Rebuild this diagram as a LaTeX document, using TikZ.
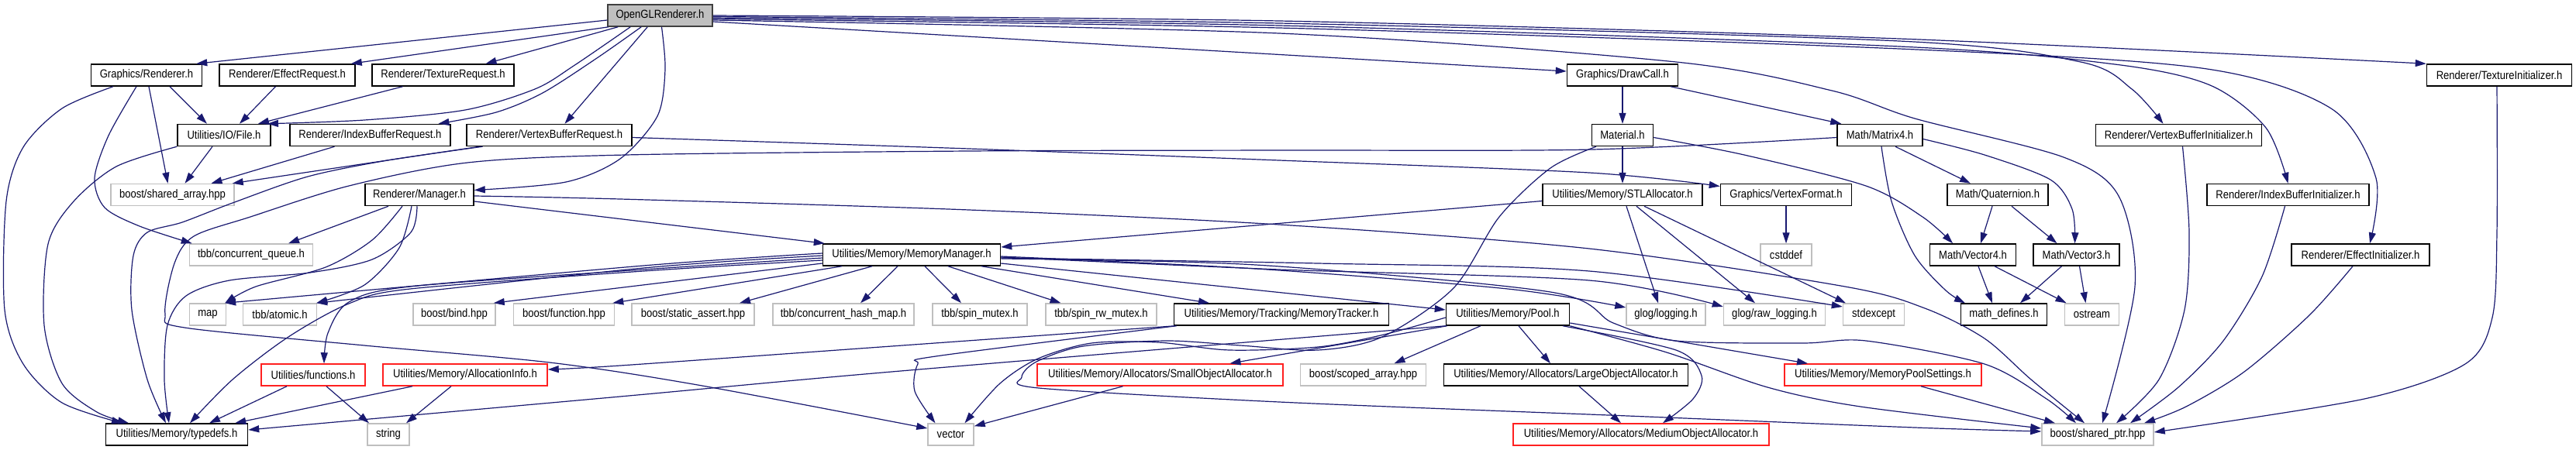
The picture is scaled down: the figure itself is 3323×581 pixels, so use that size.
\documentclass[tikz,border=0pt]{standalone}
\usepackage{fontspec}
\newfontfamily\nf[FakeStretch=0.87]{Liberation Sans}
\usetikzlibrary{arrows.meta}
\definecolor{edgeblue}{HTML}{191970}
\definecolor{extgray}{HTML}{BFBFBF}
\definecolor{truncred}{HTML}{FF2020}
\definecolor{rootgray}{HTML}{BFBFBF}
\definecolor{rootborder}{HTML}{404040}
\tikzset{
  nb/.style={draw=black, line width=1.5pt, fill=white, minimum height=28pt, inner xsep=2pt, inner ysep=0pt, font=\nf\fontsize{15}{18}\selectfont},
  ext/.style={nb, draw=extgray},
  trunc/.style={nb, draw=truncred},
  root/.style={nb, fill=rootgray, draw=rootborder},
  edge/.style={draw=edgeblue, line width=1.2pt, -{Triangle[length=14pt,width=9pt]}},
}
\begin{document}
\begin{tikzpicture}[x=1pt,y=-1pt]
\useasboundingbox (0,0) rectangle (3323,581);
\fill[white] (0,0) rectangle (3323,581);
% nodes
\node[root, minimum width=135pt] (O) at (851.5,20) {OpenGLRenderer.h};
\node[nb, minimum width=143pt] (GR) at (189,97) {Graphics/Renderer.h};
\node[nb, minimum width=175pt] (ER) at (370.5,97) {Renderer/EffectRequest.h};
\node[nb, minimum width=183pt] (TR) at (571.5,97) {Renderer/TextureRequest.h};
\node[nb, minimum width=143pt] (DC) at (2093,97) {Graphics/DrawCall.h};
\node[nb, minimum width=187pt] (TI) at (3224,97) {Renderer/TextureInitializer.h};
\node[nb, minimum width=120pt] (File) at (289,174.5) {Utilities/IO/File.h};
\node[nb, minimum width=207pt] (IBR) at (477.5,174.5) {Renderer/IndexBufferRequest.h};
\node[nb, minimum width=213pt] (VBR) at (708.5,174.5) {Renderer/VertexBufferRequest.h};
\node[nb, minimum width=79pt] (Mat) at (2093,174.5) {Material.h};
\node[nb, minimum width=110pt] (M4) at (2425,174.5) {Math/Matrix4.h};
\node[nb, minimum width=214pt] (VBI) at (2810.5,174.5) {Renderer/VertexBufferInitializer.h};
\node[ext, minimum width=159pt] (SA) at (222.5,251.5) {boost/shared\_array.hpp};
\node[nb, minimum width=140pt] (RM) at (541,251.5) {Renderer/Manager.h};
\node[nb, minimum width=206pt] (STL) at (2093,251.5) {Utilities/Memory/STLAllocator.h};
\node[nb, minimum width=169pt] (VF) at (2304,251.5) {Graphics/VertexFormat.h};
\node[nb, minimum width=130pt] (Q) at (2577,251.5) {Math/Quaternion.h};
\node[nb, minimum width=209pt] (IBI) at (2951.5,251.5) {Renderer/IndexBufferInitializer.h};
\node[ext, minimum width=159pt] (CQ) at (324,329) {tbb/concurrent\_queue.h};
\node[nb, minimum width=229pt] (MM) at (1176,329) {Utilities/Memory/MemoryManager.h};
\node[ext, minimum width=66pt] (CD) at (2304,329) {cstddef};
\node[nb, minimum width=111pt] (V4) at (2545,329) {Math/Vector4.h};
\node[nb, minimum width=111pt] (V3) at (2678.5,329) {Math/Vector3.h};
\node[nb, minimum width=178pt] (EI) at (3045,329) {Renderer/EffectInitializer.h};
\node[ext, minimum width=47pt] (map) at (268,406) {map};
\node[ext, minimum width=95pt] (atomic) at (361,406) {tbb/atomic.h};
\node[ext, minimum width=106pt] (bind) at (586,406) {boost/bind.hpp};
\node[ext, minimum width=130pt] (func) at (727.5,406) {boost/function.hpp};
\node[ext, minimum width=158pt] (sa2) at (894,406) {boost/static\_assert.hpp};
\node[ext, minimum width=182pt] (chm) at (1088,406) {tbb/concurrent\_hash\_map.h};
\node[ext, minimum width=122pt] (sm) at (1264,406) {tbb/spin\_mutex.h};
\node[ext, minimum width=143pt] (srw) at (1420.5,406) {tbb/spin\_rw\_mutex.h};
\node[nb, minimum width=277pt] (MT) at (1653,406) {Utilities/Memory/Tracking/MemoryTracker.h};
\node[nb, minimum width=159pt] (Pool) at (1945,406) {Utilities/Memory/Pool.h};
\node[ext, minimum width=102pt] (gl) at (2149,406) {glog/logging.h};
\node[ext, minimum width=131pt] (grl) at (2289,406) {glog/raw\_logging.h};
\node[ext, minimum width=79pt] (se) at (2417,406) {stdexcept};
\node[nb, minimum width=111pt] (MD) at (2585,406) {math\_defines.h};
\node[ext, minimum width=70pt] (os) at (2698.5,406) {ostream};
\node[trunc, minimum width=134pt] (fn) at (404,484) {Utilities/functions.h};
\node[trunc, minimum width=212pt] (AI) at (600,484) {Utilities/Memory/AllocationInfo.h};
\node[trunc, minimum width=317pt] (SOA) at (1496.5,484) {Utilities/Memory/Allocators/SmallObjectAllocator.h};
\node[ext, minimum width=162pt] (sca) at (1758.5,484) {boost/scoped\_array.hpp};
\node[nb, minimum width=315pt] (LOA) at (2020,484) {Utilities/Memory/Allocators/LargeObjectAllocator.h};
\node[trunc, minimum width=254pt] (MPS) at (2429,484) {Utilities/Memory/MemoryPoolSettings.h};
\node[nb, minimum width=183pt] (TD) at (228,561) {Utilities/Memory/typedefs.h};
\node[ext, minimum width=54pt] (str) at (501,561) {string};
\node[ext, minimum width=59pt] (vec) at (1226.5,561) {vector};
\node[trunc, minimum width=330pt] (MOA) at (2117,561) {Utilities/Memory/Allocators/MediumObjectAllocator.h};
\node[ext, minimum width=144pt] (SP) at (2706,561) {boost/shared\_ptr.hpp};
% ---- edges from OpenGLRenderer.h
\draw[edge] ([yshift=-6pt]O.west) -- ([xshift=-8pt]GR.north east);
\draw[edge] ([xshift=2pt]O.south west) -- ([xshift=-6pt]ER.north east);
\draw[edge] ([xshift=14pt]O.south west) -- ([xshift=55pt]TR.north);
\draw[edge] plot[smooth] coordinates {([xshift=30pt]O.south west) (740,85) (690,115) (600,142) (470,155) ([xshift=56pt]File.north)};
\draw[edge] plot[smooth] coordinates {([xshift=44pt]O.south west) (770,75) (700,120) (640,145) ([xshift=88pt]IBR.north)};
\draw[edge] ([xshift=52pt]O.south west) -- ([xshift=20pt]VBR.north);
\draw[edge] plot[smooth] coordinates {([xshift=2pt]O.south) (858,90) (848,150) (800,205) (730,235) ([yshift=6pt]RM.east)};
\draw[edge] ([yshift=-8pt]O.east) -- ([yshift=5pt]DC.west);
\draw[edge] plot[smooth] coordinates {(O.east) (1650,27) (2450,50) (TI.north west)};
\draw[edge] plot[smooth] coordinates {([yshift=-1.5pt]O.east) (1650,30) (2450,53) (2684,80) (2750,115) ([xshift=-20pt]VBI.north)};
\draw[edge] plot[smooth] coordinates {([yshift=-3pt]O.east) (1650,33) (2450,60) (2728,83) (2851,110) (2923,165) (IBI.north)};
\draw[edge] plot[smooth] coordinates {([yshift=-4.5pt]O.east) (1650,36) (2450,63) (2840,88) (3007,140) (3065,230) ([xshift=12pt]EI.north)};
\draw[edge] plot[smooth] coordinates {([yshift=-6pt]O.east) (1650,43) (2162,80) (2363,117) (2470,153) (2662,203) (2733,253) (2754,370) ([xshift=6pt]SP.north)};
% ---- Graphics/Renderer.h
\draw[edge] ([xshift=30pt]GR.south) -- ([xshift=-22pt]File.north);
\draw[edge] ([xshift=3pt]GR.south) -- ([xshift=-6pt]SA.north);
\draw[edge] plot[smooth] coordinates {([xshift=-43pt]GR.south) (80,140) (30,190) (8,260) (6,400) (30,470) (80,520) ([xshift=-70pt]TD.north)};
\draw[edge] plot[smooth] coordinates {([xshift=-13pt]GR.south) (140,175) (122,230) (135,268) (180,292) ([xshift=4pt]CQ.north west)};
% ---- requests
\draw[edge] ([xshift=-15pt]ER.south) -- ([xshift=20pt]File.north);
\draw[edge] ([xshift=-52pt]TR.south) -- ([xshift=44pt]File.north);
\draw[edge] ([xshift=-15pt]File.south) -- ([xshift=16pt]SA.north);
\draw[edge] plot[smooth] coordinates {(File.south west) (150,215) (95,260) (62,315) (57,420) (80,495) (125,532) ([xshift=-62pt]TD.north)};
\draw[edge] ([xshift=-46pt]IBR.south) -- ([xshift=50pt]SA.north);
\draw[edge] ([xshift=-90pt]VBR.south) -- ([xshift=-3pt]SA.north east);
\draw[edge] plot[smooth] coordinates {([xshift=-86pt]VBR.south) (500,207) (397,228) (300,262) (235,287) (190,300) (172,330) (170,400) (190,490) ([xshift=-14pt]TD.north)};
\draw[edge] plot[smooth] coordinates {([yshift=-3pt]VBR.east) (1250,192) (1650,207) (2050,223) ([yshift=11pt]VF.west)};
% ---- Renderer/Manager.h
\draw[edge] ([xshift=-40pt]RM.south) -- ([xshift=48pt]CQ.north);
\draw[edge] plot[smooth] coordinates {([xshift=-22pt]RM.south) (480,310) (420,345) (330,370) ([xshift=-2pt]map.north east)};
\draw[edge] plot[smooth] coordinates {([xshift=-10pt]RM.south) (515,320) (470,368) ([xshift=-1pt]atomic.north east)};
\draw[edge] plot[smooth] coordinates {([xshift=-3pt]RM.south) (530,300) (480,335) (400,352) (296,362) (240,382) (216,420) (212,490) ([xshift=-10pt]TD.north)};
\draw[edge] ([yshift=-8.5pt]RM.east) -- ([xshift=3pt]MM.north west);
\draw[edge] plot[smooth] coordinates {([yshift=-1.5pt]RM.east) (800,257) (1250,271) (1650,290) (2050,321) (2380,370) (2483,398) (2560,437) (2620,490) ([xshift=-17pt]SP.north)};
% ---- Matrix4
\draw[edge] plot[smooth] coordinates {([yshift=-3pt]M4.west) (2054,193) (1650,194) (1250,195) (807,200) (603,210) (450,240) (323,280) (250,305) (225,340) (213,405) (238,423) (470,446) (709,468) (900,497) ([yshift=8pt]vec.west)};
\draw[edge] ([xshift=20pt]M4.south) -- ([xshift=-35pt]Q.north);
\draw[edge] plot[smooth] coordinates {([yshift=-5pt]M4.east) (2560,200) (2645,232) (2673,270) ([xshift=-2pt]V3.north)};
\draw[edge] plot[smooth] coordinates {([xshift=2pt]M4.south) (2440,260) (2470,330) (2510,375) ([xshift=-50pt]MD.north)};
% ---- DrawCall, Material
\draw[edge] (DC.south) -- (Mat.north);
\draw[edge] ([xshift=62pt]DC.south) -- ([xshift=6pt]M4.north west);
\draw[edge] (Mat.south) -- (STL.north);
\draw[edge] plot[smooth] coordinates {([yshift=-3pt]Mat.east) (2250,200) (2407,240) (2480,280) ([xshift=-26pt]V4.north)};
\draw[edge] plot[smooth] coordinates {([xshift=-34pt]Mat.south) (2000,217) (1934,280) (1875,372) (1783,435) (1700,452) (1600,446) (1505,440) (1397,447) (1337,467) (1318,487) (1340,501) (1650,519) (2100,537) (2470,552) ([yshift=4pt]SP.west)};
% ---- STLAllocator, VertexFormat
\draw[edge] ([yshift=-8pt]STL.west) -- ([yshift=10pt]MM.east);
\draw[edge] ([xshift=5pt]STL.south) -- ([xshift=-10pt]gl.north);
\draw[edge] ([xshift=18pt]STL.south) -- ([xshift=-25pt]grl.north);
\draw[edge] ([xshift=28pt]STL.south) -- ([xshift=-36pt]se.north);
\draw[edge] (VF.south) -- (CD.north);
% ---- Math
\draw[edge] ([xshift=-7pt]Q.south) -- ([xshift=10pt]V4.north);
\draw[edge] ([xshift=18pt]Q.south) -- ([xshift=-25pt]V3.north);
\draw[edge] ([xshift=7pt]V4.south) -- ([xshift=-15pt]MD.north);
\draw[edge] ([xshift=28pt]V4.south) -- ([xshift=-33pt]os.north);
\draw[edge] ([xshift=-19pt]V3.south) -- ([xshift=21pt]MD.north);
\draw[edge] ([xshift=4pt]V3.south) -- ([xshift=-8pt]os.north);
% ---- initializers to shared_ptr
\draw[edge] plot[smooth] coordinates {([xshift=5pt]VBI.south) (2824,300) (2818,400) (2785,490) ([xshift=24pt]SP.north)};
\draw[edge] plot[smooth] coordinates {([xshift=-4pt]IBI.south) (2918,357) (2868,440) (2810,500) ([xshift=42pt]SP.north)};
\draw[edge] plot[smooth] coordinates {([xshift=-10pt]EI.south) (2979,407) (2895,480) (2820,525) ([xshift=60pt]SP.north)};
\draw[edge] plot[smooth] coordinates {([xshift=-3pt]TI.south) (3221,300) (3215,410) (3180,470) (3050,515) ([yshift=3pt]SP.east)};
% ---- MemoryManager
\draw[edge] plot[smooth] coordinates {([yshift=2pt]MM.west) (830,343) ([xshift=-2pt]map.north east)};
\draw[edge] plot[smooth] coordinates {([yshift=-1pt]MM.west) (830,346) ([xshift=-1pt]atomic.north east)};
\draw[edge] plot[smooth] coordinates {([yshift=-4pt]MM.west) (830,348) (529,370) (450,390) (423,430) ([xshift=14pt]fn.north)};
\draw[edge] plot[smooth] coordinates {([yshift=-7pt]MM.west) (830,350) (529,373) (450,392) (372,435) (300,490) ([xshift=17pt]TD.north)};
\draw[edge] ([yshift=-11pt]MM.west) -- ([xshift=-3pt]bind.north east);
\draw[edge] ([xshift=-90pt]MM.south) -- ([xshift=-3pt]func.north east);
\draw[edge] ([xshift=-51pt]MM.south) -- ([xshift=60pt]sa2.north);
\draw[edge] ([xshift=-18pt]MM.south) -- ([xshift=22pt]chm.north);
\draw[edge] ([xshift=17pt]MM.south) -- ([xshift=-24pt]sm.north);
\draw[edge] ([xshift=47pt]MM.south) -- ([xshift=-52pt]srw.north);
\draw[edge] ([xshift=90pt]MM.south) -- ([xshift=-93pt]MT.north);
\draw[edge] ([yshift=-11pt]MM.east) -- ([yshift=6pt]Pool.west);
\draw[edge] plot[smooth] coordinates {([yshift=-2pt]MM.east) (1620,347) (1945,373) ([yshift=9pt]gl.west)};
\draw[edge] plot[smooth] coordinates {([yshift=-3pt]MM.east) (1650,348) (2050,362) ([yshift=10pt]grl.west)};
\draw[edge] plot[smooth] coordinates {([yshift=-4pt]MM.east) (1700,340) (2050,350) ([yshift=10pt]se.west)};
\draw[edge] plot[smooth] coordinates {([yshift=-5pt]MM.east) (1620,342) (2000,377) (2081,417) (2162,440) (2325,443) (2407,440) (2560,470) (2640,515) ([xshift=-28pt]SP.north)};
% ---- MemoryTracker
\draw[edge] plot[smooth] coordinates {([xshift=2pt]MT.south west) (1150,447) (800,472) ([yshift=7pt]AI.east)};
\draw[edge] plot[smooth] coordinates {([xshift=4pt]MT.south west) (1207,460) (1184,470) (1180,505) ([xshift=-20pt]vec.north)};
% ---- Pool
\draw[edge] plot[smooth] coordinates {([yshift=-4pt]Pool.west) (1781,433) (1700,448) (1586,452) (1494,442) (1408,443) (1339,463) (1290,495) ([xshift=18pt]vec.north)};
\draw[edge] ([xshift=2pt]Pool.south west) -- ([xshift=90pt]SOA.north);
\draw[edge] ([xshift=-35pt]Pool.south) -- ([xshift=40pt]sca.north);
\draw[edge] ([xshift=14pt]Pool.south) -- ([xshift=-20pt]LOA.north);
\draw[edge] plot[smooth] coordinates {([xshift=71pt]Pool.south) (2162,452) (2195,485) (2184,515) ([xshift=28pt]MOA.north)};
\draw[edge] ([yshift=-11pt]Pool.east) -- ([xshift=-97pt]MPS.north);
\draw[edge] plot[smooth] coordinates {(Pool.south east) (2150,455) (2280,500) (2400,525) ([yshift=8pt]SP.west)};
\draw[edge] plot[smooth] coordinates {(Pool.south west) (1150,480) (800,512) ([yshift=6pt]TD.east)};
% ---- lower rows
\draw[edge] ([xshift=-48pt]SOA.south) -- ([yshift=-4pt]vec.north east);
\draw[edge] ([xshift=17pt]LOA.south) -- ([xshift=-26pt]MOA.north);
\draw[edge] ([xshift=49pt]MPS.south) -- ([xshift=-55pt]SP.north);
\draw[edge] ([xshift=-34pt]fn.south) -- ([xshift=42pt]TD.north);
\draw[edge] ([xshift=17pt]fn.south) -- ([xshift=-25pt]str.north);
\draw[edge] ([xshift=-68pt]AI.south) -- ([xshift=-17pt]TD.north east);
\draw[edge] ([xshift=-18pt]AI.south) -- ([xshift=23pt]str.north);
\end{tikzpicture}
\end{document}
